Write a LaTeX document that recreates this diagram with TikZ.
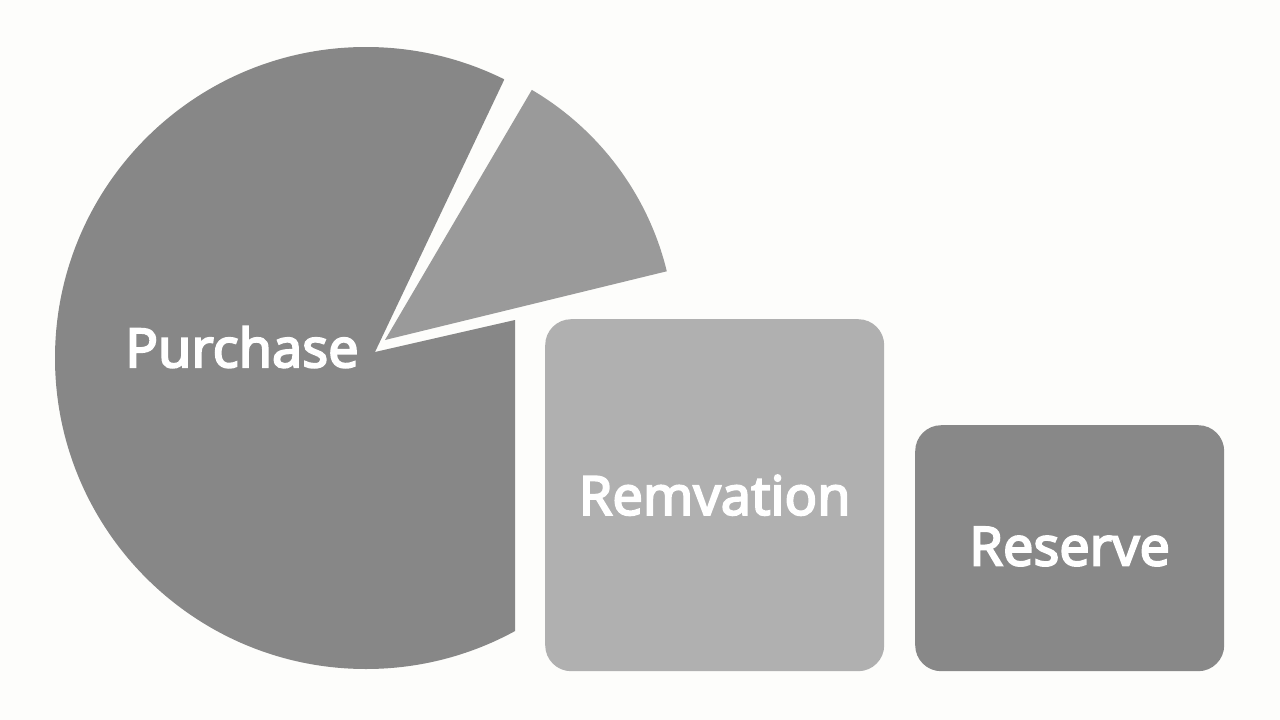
\documentclass[tikz,border=0pt]{standalone}
\usepackage{fontspec}
\setmainfont{Noto Sans}
\newfontfamily\lblfont{Noto Sans}[FakeBold=3.5]
\definecolor{bgc}{RGB}{253,253,251}
\definecolor{bigc}{RGB}{135,135,135}
\definecolor{smallc}{RGB}{154,154,154}
\definecolor{remc}{RGB}{176,176,176}
\definecolor{resc}{RGB}{136,136,136}
\begin{document}
\begin{tikzpicture}[x=1pt,y=-1pt,
  lbl/.style={text=white,font=\lblfont\fontsize{54}{62}\selectfont},
  box/.style={rounded corners=26pt, inner sep=0pt, anchor=north west, lbl}]
\useasboundingbox[fill=bgc] (0,0) rectangle (1280,720);
% big slice
\begin{scope}
  \clip (366,358) circle[radius=311pt];
  \fill[bigc] (375,352) -- (542,0) -- (0,0) -- (0,720) -- (515,720) -- (515,320) -- cycle;
\end{scope}
% small slice
\begin{scope}
  \clip (385,340) circle[radius=290pt];
  \fill[smallc] (385,340) -- (675,-154) -- (959,200) -- cycle;
\end{scope}
\node[lbl] (purchase) at (242,347) {Purchase};
\node[box, fill=remc, minimum width=339pt, minimum height=352pt] (remv) at (545,319) {Remvation};
\node[box, fill=resc, minimum width=309pt, minimum height=246pt] (resv) at (915,425) {\raisebox{4pt}{Reserve}};
\end{tikzpicture}
\end{document}
